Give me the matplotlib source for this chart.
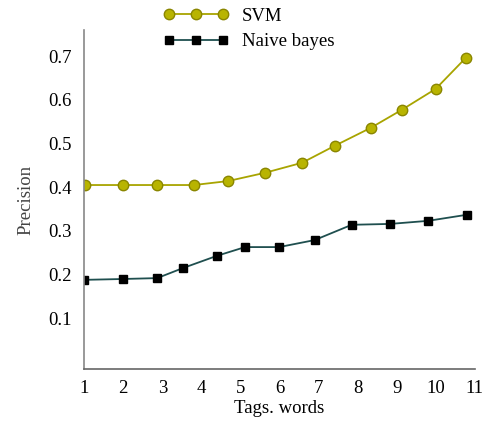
import matplotlib.pyplot as plt

# Valores
x_svm = [1.03, 2.0, 2.87, 3.81, 4.68, 5.63, 6.58, 7.42, 8.34, 9.13, 10.0, 10.77]
svm = [0.405, 0.405, 0.405, 0.405, 0.414, 0.433, 0.456, 0.495, 0.536, 0.577, 0.625, 0.696]

x_nb = [1.0, 2.0, 2.87, 3.53, 4.4, 5.12, 5.99, 6.9, 7.85, 8.83, 9.8, 10.8]
naive = [0.188, 0.19, 0.192, 0.215, 0.243, 0.263, 0.263, 0.279, 0.314, 0.316, 0.323, 0.337]

xticks = list(range(1, 12))
yticks = [0.1, 0.2, 0.3, 0.4, 0.5, 0.6, 0.7]

plt.rcParams['font.family'] = ['Liberation Serif', 'DejaVu Serif']
fs = 13.5

fig = plt.figure(figsize=(4.92, 4.21), dpi=100)
ax = fig.add_axes([0.171, 0.1235, 0.794, 0.8055])

ax.plot(x_svm, svm, color='#a8a400', lw=1.3, marker='o', markersize=7.5,
        markerfacecolor='#b8b400', markeredgecolor='#8a8600', label='SVM')
ax.plot(x_nb, naive, color='#1f4f4f', lw=1.3, marker='s', markersize=5.5,
        markerfacecolor='black', markeredgecolor='black', label='Naive bayes')

ax.set_xlim(1, 11)
ax.set_ylim(-0.016, 0.76)
ax.set_xticks(xticks)
ax.set_yticks(yticks)
ax.set_xticklabels([str(t) for t in xticks], fontsize=fs)
ax.set_yticklabels([str(t) for t in yticks], fontsize=fs)
ax.tick_params(length=0)
ax.tick_params(axis='x', pad=8)
ax.tick_params(axis='y', pad=9)

for s in ['top', 'right']:
    ax.spines[s].set_visible(False)
ax.spines['left'].set_color('#888888')
ax.spines['bottom'].set_color('#666666')
ax.spines['left'].set_linewidth(1.2)
ax.spines['bottom'].set_linewidth(1.2)

ax.set_xlabel('Tags. words', fontsize=fs, labelpad=2)
ax.set_ylabel('Precision', fontsize=fs, color='#444444', labelpad=10)

fig.legend(loc='upper left', bbox_to_anchor=(0.297, 1.022), frameon=False,
           numpoints=3, handlelength=3.5, fontsize=fs, labelspacing=0.45,
           handletextpad=0.7)

plt.savefig('out.png', dpi=100)
